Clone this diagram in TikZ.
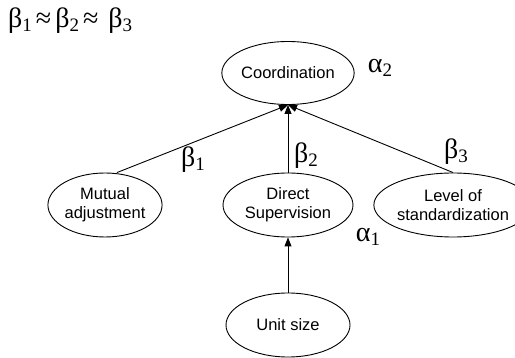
\documentclass[tikz,border=0pt]{standalone}
\usepackage{fontspec}
\setmainfont{Liberation Sans}
\newfontfamily\grk{Liberation Serif}
\usetikzlibrary{shapes.geometric,arrows.meta}
\newcommand\gsub[1]{\raisebox{-0.3ex}{\fontsize{19}{19}\selectfont #1}}
\begin{document}
\begin{tikzpicture}[x=1pt,y=-1pt,
  oval/.style={draw,line width=0.9pt,ellipse,inner sep=0pt,align=center,font=\fontsize{16.5}{19}\selectfont},
  arr/.style={line width=0.9pt,-{Triangle[length=9pt,width=7pt]}},
  glab/.style={inner sep=0pt,font=\grk\fontsize{28}{28}\selectfont}]
\useasboundingbox (0,0) rectangle (515,358);
\node[oval,minimum width=130pt,minimum height=63pt] (coord) at (288,73) {Coordination};
\node[oval,minimum width=106pt,minimum height=64pt] (mut) at (105,205) {Mutual\\adjustment};
\node[oval,minimum width=130pt,minimum height=64pt] (dir) at (288,205) {Direct\\Supervision};
\node[oval,minimum width=120pt,minimum height=64pt] (lev) at (453,205) {Level of\\standardization};
\node[oval,minimum width=124pt,minimum height=64pt] (unit) at (288,325) {Unit size};
\coordinate (m1) at ([xshift=12pt]mut.north);
\draw[arr] (m1) -- (coord.south);
\draw[arr] (dir.north) -- (coord.south);
\draw[arr] (lev.north) -- (coord.south);
\draw[arr] (unit.north) -- (dir.south);
\node[glab,anchor=base west] (eq) at (8,28) {β\gsub{1}\hspace{4pt}≈\hspace{4pt}β\gsub{2}\hspace{4pt}≈\hspace{10pt}β\gsub{3}};
\node[glab] (b1) at (193,160) {β\gsub{1}};
\node[glab] (b2) at (306,156) {β\gsub{2}};
\node[glab] (b3) at (456,152) {β\gsub{3}};
\node[glab] (a2) at (380,68) {α\gsub{2}};
\node[glab] (a1) at (368,237) {α\gsub{1}};
\end{tikzpicture}
\end{document}
